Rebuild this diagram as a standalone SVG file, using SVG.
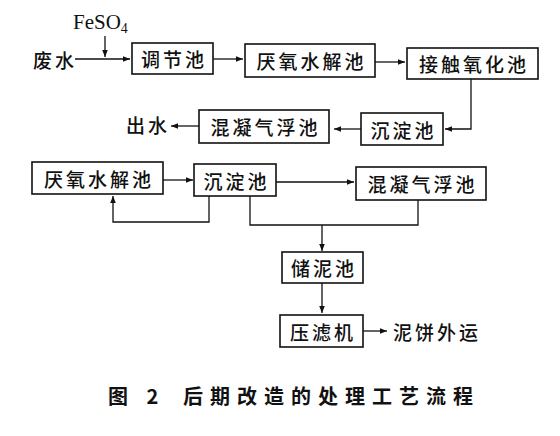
<svg xmlns="http://www.w3.org/2000/svg" width="560" height="436" viewBox="0 0 560 436">
<style>
.box{fill:#fff;stroke:#111;stroke-width:1.6}
.t{font-family:"Noto Sans CJK SC","Noto Sans CJK JP",sans-serif;font-size:19px;font-weight:500;fill:#111;text-anchor:middle;dominant-baseline:central;letter-spacing:3px}
.c{fill:none;stroke:#111;stroke-width:1.3}
.cap{font-family:"Noto Sans CJK SC",sans-serif;font-size:20px;font-weight:bold;fill:#111;dominant-baseline:central;letter-spacing:7px}
.fe{font-family:"Liberation Serif",serif;font-size:21px;fill:#111}
</style>
<defs>
<marker id="a" viewBox="0 0 10 10" refX="10" refY="5" markerWidth="7" markerHeight="7" markerUnits="userSpaceOnUse" orient="auto">
<path d="M0,1 L10,5 L0,9 z" fill="#111"/>
</marker>
</defs>
<g id="connectors">
<path class="c" d="M75,59 H130" marker-end="url(#a)"/>
<path class="c" d="M105,36 V57" marker-end="url(#a)"/>
<path class="c" d="M213,59 H243" marker-end="url(#a)"/>
<path class="c" d="M375,62 H405" marker-end="url(#a)"/>
<path class="c" d="M471,79 V129 H445" marker-end="url(#a)"/>
<path class="c" d="M361,129 H334" marker-end="url(#a)"/>
<path class="c" d="M199,126 H171" marker-end="url(#a)"/>
<path class="c" d="M163,180 H193" marker-end="url(#a)"/>
<path class="c" d="M209,196 V222 H113 V196" marker-end="url(#a)"/>
<path class="c" d="M276,182 H354" marker-end="url(#a)"/>
<path class="c" d="M418,200 V225 H250 V196"/>
<path class="c" d="M322,225 V251" marker-end="url(#a)"/>
<path class="c" d="M322,283 V313" marker-end="url(#a)"/>
<path class="c" d="M363,331 H387" marker-end="url(#a)"/>
</g>
<g id="feso4"><text class="fe" x="73" y="29">FeSO<tspan font-size="14" dy="4">4</tspan></text></g>
<g id="wastewater"><text class="t" x="55" y="59">废水</text></g>
<g id="outflow"><text class="t" x="148" y="124">出水</text></g>
<g id="cake"><text class="t" x="437" y="331">泥饼外运</text></g>
<g id="n1"><rect class="box" x="132" y="43" width="81" height="31"/><text class="t" x="174" y="58.5">调节池</text></g>
<g id="n2"><rect class="box" x="245" y="44" width="130" height="33"/><text class="t" x="311.5" y="60.5">厌氧水解池</text></g>
<g id="n3"><rect class="box" x="407" y="48" width="131" height="31"/><text class="t" x="474" y="63.5">接触氧化池</text></g>
<g id="n4"><rect class="box" x="361" y="113" width="82" height="32"/><text class="t" x="403.5" y="129">沉淀池</text></g>
<g id="n5"><rect class="box" x="199" y="110" width="130" height="33"/><text class="t" x="265.5" y="126.5">混凝气浮池</text></g>
<g id="n6"><rect class="box" x="32" y="162" width="131" height="32"/><text class="t" x="99" y="178">厌氧水解池</text></g>
<g id="n7"><rect class="box" x="194" y="164" width="82" height="32"/><text class="t" x="236.5" y="180">沉淀池</text></g>
<g id="n8"><rect class="box" x="356" y="167" width="130" height="33"/><text class="t" x="422.5" y="183.5">混凝气浮池</text></g>
<g id="n9"><rect class="box" x="282" y="252" width="81" height="31"/><text class="t" x="324" y="267.5">储泥池</text></g>
<g id="n10"><rect class="box" x="280" y="315" width="83" height="32"/><text class="t" x="323" y="331">压滤机</text></g>
<g id="caption"><text class="cap" x="108" y="395" letter-spacing="3">图 2</text><text class="cap" x="183" y="395">后期改造的处理工艺流程</text></g>
</svg>
